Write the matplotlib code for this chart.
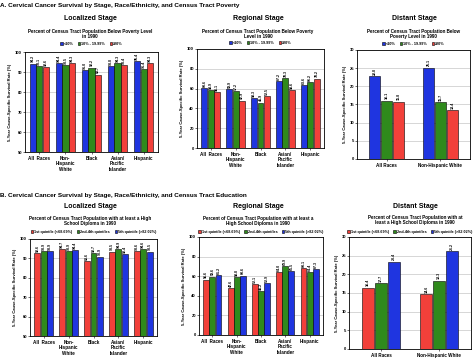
import matplotlib.pyplot as plt
import numpy as np

plt.rcParams['font.family'] = ['Liberation Sans', 'DejaVu Sans']
plt.rcParams['font.weight'] = 'bold'

W, H = 474, 359

# data
races5 = ["All  Races", "Non-\nHispanic\nWhite", "Black", "Asian/\nPacific\nIslander", "Hispanic"]
races2 = ["All Races", "Non-Hispanic White"]

pov_labels = ["<10%", "10% - 19.99%", "\u226520%"]
edu_labels = ["1st quintile (<68.69%)", "2nd-4th quintiles", "5th quintile (>82.02%)"]

pov_local = [[94.2, 94.4, 91.0, 93.0, 95.4],
             [93.1, 93.5, 92.2, 94.3, 91.4],
             [92.6, 94.3, 88.7, 93.4, 94.3]]
pov_regional = [[60.6, 59.9, 50.3, 67.2, 63.6],
                [58.9, 57.2, 45.9, 70.3, 66.2],
                [56.1, 47.9, 52.5, 58.6, 70.2]]
pov_distant = [[22.8, 25.1],
               [16.1, 15.7],
               [15.8, 13.4]]

edu_local = [[92.6, 94.7, 88.6, 93.5, 93.6],
             [93.9, 93.9, 92.7, 94.9, 94.6],
             [93.9, 94.4, 90.9, 92.4, 93.5]]
edu_regional = [[56.6, 47.6, 52.1, 64.0, 68.1],
                [59.6, 58.8, 45.2, 69.9, 64.4],
                [61.2, 60.6, 52.9, 65.5, 67.3]]
edu_distant = [[16.4, 14.6],
               [17.7, 18.3],
               [23.4, 26.2]]

BLUE, GREEN, RED = "#1f35e0", "#2f8a1c", "#f2403a"

fig = plt.figure(figsize=(W / 100, H / 100), dpi=100)


def px_axes(l, t, r, b):
    return fig.add_axes([l / W, 1 - b / H, (r - l) / W, (b - t) / H])


def ftext(x, y, s, size, **kw):
    fig.text(x / W, 1 - y / H, s, fontsize=size, fontweight='bold',
             ha=kw.pop('ha', 'center'), va=kw.pop('va', 'center'), **kw)


def panel(box, cats, series, colors, labels, ylim, step, wide=False, leg_y=None, leg_x=None):
    ax = px_axes(*box)
    x = np.arange(len(cats))
    w = 0.24 if not wide else 0.21
    for i, (vals, c, lab) in enumerate(zip(series, colors, labels)):
        pos = x + (i - 1) * (w + 0.01)
        ax.bar(pos, vals, w, color=c, edgecolor='black', linewidth=0.4, label=lab, zorder=3)
        for xx, v in zip(pos, vals):
            ax.text(xx, v + (ylim[1] - ylim[0]) * 0.012, f"{v:.1f}", rotation=90, ha='center',
                    va='bottom', fontsize=2.6, fontweight='bold', zorder=4)
    ax.set_ylim(*ylim)
    ax.set_yticks(np.arange(ylim[0], ylim[1] + 0.1, step))
    ax.set_xlim(-0.55, len(cats) - 0.45)
    ax.set_xticks(x)
    ax.set_xticklabels(cats, fontsize=3.3, fontweight='bold', linespacing=1.15)
    ax.tick_params(axis='y', labelsize=3, length=1.2, width=0.4, pad=1)
    ax.tick_params(axis='x', length=1.2, width=0.4, pad=1.5)
    for lbl in ax.get_yticklabels():
        lbl.set_fontweight('bold')
    ax.grid(axis='y', color='#b8b8b8', linewidth=0.4, zorder=0)
    for s in ax.spines.values():
        s.set_linewidth(0.6)
    ax.set_ylabel("5-Year Cause-Specific Survival Rate (%)", fontsize=3.0, fontweight='bold', labelpad=2)
    l, t, r, b = box
    lx = leg_x if leg_x is not None else (l + r) / 2
    ax.legend(loc='center', bbox_to_anchor=(lx / W, 1 - leg_y / H), bbox_transform=fig.transFigure,
              ncol=3, fontsize=2.7, frameon=False, handlelength=0.6, handleheight=0.6,
              handletextpad=0.3, columnspacing=1.2, borderpad=0)
    return ax


# ---- A: poverty ----
ftext(0, 5, "A. Cervical Cancer Survival by Stage, Race/Ethnicity, and Census Tract Poverty", 4.6, ha='left')

ftext(90, 19, "Localized Stage", 5.0)
ftext(90, 34, "Percent of Census Tract Population Below Poverty Level\nin 1990", 3.3, linespacing=1.2)
panel((25, 52, 158, 152), races5, pov_local, [BLUE, GREEN, RED], pov_labels, (50, 100), 10, leg_y=44)

ftext(258, 19, "Regional Stage", 5.0)
ftext(258, 34, "Percent of Census Tract Population Below Poverty\nLevel in 1990", 3.3, linespacing=1.2)
panel((197, 49, 324, 148), races5, pov_regional, [BLUE, GREEN, RED], pov_labels, (0, 100), 20, leg_y=43)

ftext(414, 19, "Distant Stage", 5.0)
ftext(414, 34, "Percent of Census Tract Population Below\nPoverty Level in 1990", 3.3, linespacing=1.2)
panel((357, 50, 470, 159), races2, pov_distant, [BLUE, GREEN, RED], pov_labels, (0, 30), 5, wide=True, leg_y=44)

# ---- B: education ----
ftext(0, 195, "B. Cervical Cancer Survival by Stage, Race/Ethnicity, and Census Tract Education", 4.6, ha='left')

ftext(90, 207, "Localized Stage", 5.0)
ftext(90, 221, "Percent of Census Tract Population with at least a High\nSchool Diploma in 1990", 3.3, linespacing=1.2)
panel((30, 239, 157, 336), races5, edu_local, [RED, GREEN, BLUE], edu_labels, (50, 100), 10, leg_y=232)

ftext(258, 207, "Regional Stage", 5.0)
ftext(258, 221, "Percent of Census Tract Population with at least a\nHigh School Diploma in 1990", 3.3, linespacing=1.2)
panel((199, 237, 323, 335), races5, edu_regional, [RED, GREEN, BLUE], edu_labels, (0, 100), 20, leg_y=232)

ftext(415, 206, "Distant Stage", 5.0)
ftext(415, 220, "Percent of Census Tract Population with at\nleast a High School Diploma in 1990", 3.3, linespacing=1.2)
panel((349, 237, 471, 349), races2, edu_distant, [RED, GREEN, BLUE], edu_labels, (0, 30), 5, wide=True, leg_y=232, leg_x=410)

fig.savefig("out.png", dpi=100, facecolor='white')
